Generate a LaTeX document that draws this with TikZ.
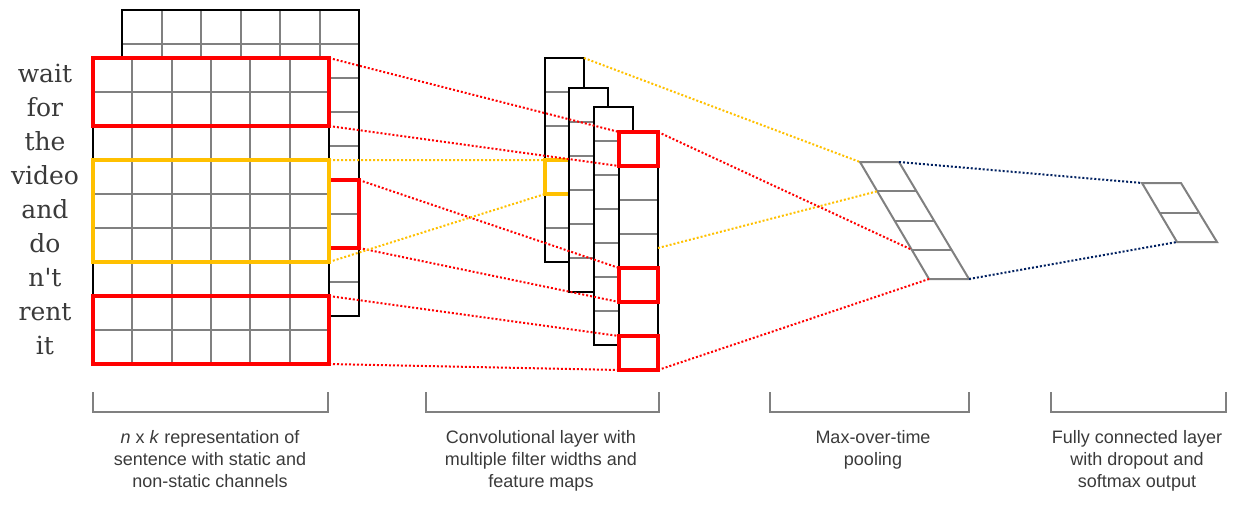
\documentclass[tikz,border=0pt]{standalone}
\usepackage{fontspec}
\setmainfont{DejaVu Serif}[Ligatures=TeXOff]
\newfontfamily\capfont{Liberation Sans}
\usetikzlibrary{calc}

\definecolor{cnnred}{HTML}{FF0000}
\definecolor{cnnyellow}{HTML}{FFC000}
\definecolor{cnnnavy}{HTML}{002060}
\definecolor{gridgray}{HTML}{808080}
\definecolor{textgray}{HTML}{3A3A3A}

\begin{document}
\begin{tikzpicture}[x=1pt, y=-1pt,
    gridline/.style={draw=gridgray, line width=2pt},
    outline/.style={draw=black, line width=2.2pt},
    redbox/.style={draw=cnnred, line width=3.2pt},
    yellowbox/.style={draw=cnnyellow, line width=3.2pt},
    dots/.style={line width=2pt, dash pattern=on 2pt off 2pt},
    word/.style={anchor=base, text=textgray, font=\fontsize{25}{30}\selectfont},
    caption/.style={anchor=north, align=center, text=textgray, inner sep=0pt,
      font=\capfont\fontsize{18}{22}\selectfont},
    bracket/.style={draw=gridgray, line width=2pt}]
  \useasboundingbox (0,0) rectangle (1248,509);

  % Back channel of the sentence matrix (9 words x 6 dims).
  \fill[white] (122,10) rectangle (359,316);
  \foreach \i in {1,...,5}
    \draw[gridline] ({122+39.5*\i},10) -- ++(0,306);
  \foreach \j in {1,...,8}
    \draw[gridline] (122,{10+34*\j}) -- ++(237,0);
  \draw[outline] (122,10) rectangle (359,316);
  \draw[redbox] (329,180) rectangle (359,248);

  % Front channel.
  \fill[white] (93,58) rectangle (329,364);
  \foreach \i in {1,...,5}
    \draw[gridline] ({93+39.33*\i},58) -- ++(0,306);
  \foreach \j in {1,...,8}
    \draw[gridline] (93,{58+34*\j}) -- ++(236,0);
  \draw[outline] (93,58) rectangle (329,364);
  \draw[redbox] (93,58) rectangle (329,126);
  \draw[yellowbox] (93,160) rectangle (329,262);
  \draw[redbox] (93,296) rectangle (329,364);

  % The words of the sentence, one per row.
  \foreach \w [count=\i from 0] in {wait,for,the,video,and,do,n't,rent,it}
    \node[word] (w\i) at (45,{82+34*\i}) {\w};

  % Feature maps: left x, top y, number of cells.
  \foreach \x/\y/\n in {545/58/6, 569/88/6, 594/107/7, 619/132/7} {
    \fill[white] (\x,\y) rectangle ++(39,{34*\n});
    \foreach \k in {1,...,\n}
      \draw[gridline] (\x,{\y+34*\k}) -- ++(39,0);
    \draw[outline] (\x,\y) rectangle ++(39,{34*\n});
    \ifnum\n=6 \ifnum\x=545
      \draw[yellowbox] (569,160) -- (545,160) -- (545,194) -- (569,194);
    \fi\fi
  }
  \draw[redbox] (619,132) rectangle (658,166);
  \draw[redbox] (619,268) rectangle (658,302);
  \draw[redbox] (619,336) rectangle (658,370);

  % Max-over-time pooling: slanted column of 4 cells.
  \draw[gridline] (860,162) -- (899,162) -- (969,279) -- (929,279) -- cycle;
  \foreach \i in {1,2,3}
    \draw[gridline] ({860+17.25*\i},{162+29.25*\i}) -- ++(39.5,0);

  % Fully connected output: 2 cells.
  \draw[gridline] (1142,183) -- (1181,183) -- (1217,242) -- (1177,242) -- cycle;
  \draw[gridline] (1159.5,212.5) -- ++(38.5,0);

  % Corner points that the dotted connectors join.
  \coordinate (fr1t) at (329,58);   \coordinate (fr1b) at (329,126);
  \coordinate (bkrt) at (359,180);  \coordinate (bkrb) at (359,248);
  \coordinate (fr3t) at (329,296);  \coordinate (fr3b) at (329,364);
  \coordinate (fyt) at (329,160);   \coordinate (fyb) at (329,262);
  \coordinate (m1yt) at (545,160);  \coordinate (m1yb) at (545,194);
  \coordinate (m1tr) at (584,58);
  \coordinate (c1tl) at (619,132);  \coordinate (c1bl) at (619,166);
  \coordinate (c1tr) at (658,132);
  \coordinate (c2tl) at (619,268);  \coordinate (c2bl) at (619,302);
  \coordinate (c3tl) at (619,336);  \coordinate (c3bl) at (619,370);
  \coordinate (c3br) at (658,370);
  \coordinate (m4y) at (658,248);
  \coordinate (ptl) at (860,162);   \coordinate (ptr) at (899,162);
  \coordinate (pl1) at (877.25,191.25);
  \coordinate (pl3) at (911.75,249.75);
  \coordinate (pbl) at (929,279);   \coordinate (pbr) at (969,279);
  \coordinate (ftl) at (1142,183);  \coordinate (fbl) at (1177,242);

  % Dotted connectors.
  \draw[dots, cnnred] (fr1t) -- (c1tl) (fr1b) -- (c1bl);
  \draw[dots, cnnred] (bkrt) -- (c2tl) (bkrb) -- (c2bl);
  \draw[dots, cnnred] (fr3t) -- (c3tl) (fr3b) -- (c3bl);
  \draw[dots, cnnyellow] (fyt) -- (m1yt) (fyb) -- (m1yb);
  \draw[dots, cnnyellow] (m1tr) -- (ptl) (m4y) -- (pl1);
  \draw[dots, cnnred] (c1tr) -- (pl3) (c3br) -- (pbl);
  \draw[dots, cnnnavy] (ptr) -- (ftl) (pbr) -- (fbl);

  % Brackets and captions.
  \draw[bracket] (93,392) -- (93,412) -- (328,412) -- (328,392);
  \draw[bracket] (426,392) -- (426,412) -- (659,412) -- (659,392);
  \draw[bracket] (770,392) -- (770,412) -- (969,412) -- (969,392);
  \draw[bracket] (1051,392) -- (1051,412) -- (1226,412) -- (1226,392);
  \node[caption] (cap1) at (210,430)
    {\textit{n} x \textit{k} representation of\\sentence with static and\\non-static channels};
  \node[caption] (cap2) at (541,430)
    {Convolutional layer with\\multiple filter widths and\\feature maps};
  \node[caption] (cap3) at (873,430) {Max-over-time\\pooling};
  \node[caption] (cap4) at (1137,430)
    {Fully connected layer\\with dropout and\\softmax output};
\end{tikzpicture}
\end{document}
